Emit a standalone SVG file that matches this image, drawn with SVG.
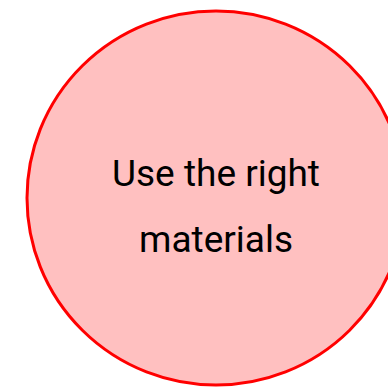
<svg xmlns="http://www.w3.org/2000/svg" width="388" height="388" viewBox="0 0 388 388">
<style>
.node-shape{fill:#ffc0c0;stroke:#ff0000;stroke-width:3}
.label{font-family:Roboto,"Liberation Sans",sans-serif;font-size:37px;fill:#000;text-anchor:middle}
</style>
<g id="connectors"></g>
<g id="node-materials">
<ellipse class="node-shape" cx="216" cy="198" rx="189" ry="187"/>
<text class="label" x="216" y="186">Use the right</text>
<text class="label" x="216" y="252">materials</text>
</g>
</svg>
